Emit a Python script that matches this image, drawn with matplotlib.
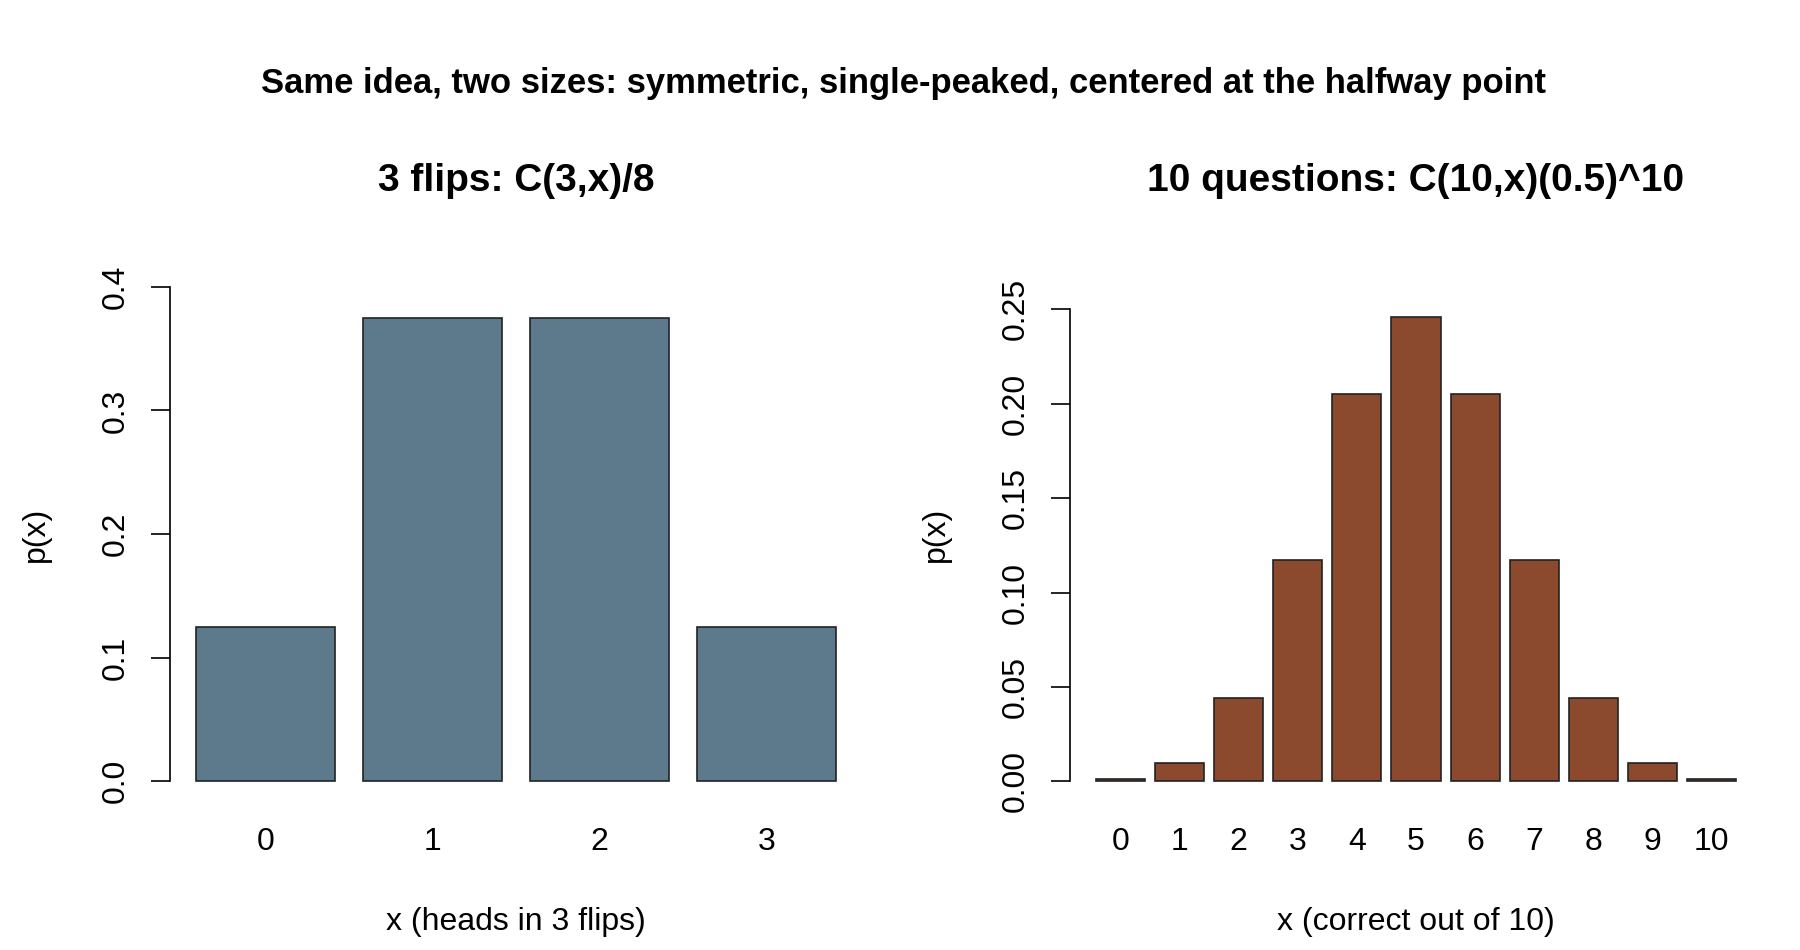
import numpy as np
import matplotlib
matplotlib.use("Agg")
import matplotlib.pyplot as plt

plt.rcParams['font.family'] = ['Liberation Sans', 'DejaVu Sans']

# data
flip_x = [0, 1, 2, 3]
flip_p = [0.125, 0.375, 0.375, 0.125]
quiz_x = [0, 1, 2, 3, 4, 5, 6, 7, 8, 9, 10]
quiz_p = [0.001, 0.0098, 0.0439, 0.1172, 0.2051, 0.2461,
          0.2051, 0.1172, 0.0439, 0.0098, 0.001]

main_title = "Same idea, two sizes: symmetric, single-peaked, centered at the halfway point"
left_title = "3 flips: C(3,x)/8"
right_title = "10 questions: C(10,x)(0.5)^10"

W, H = 1800, 950
fig = plt.figure(figsize=(W / 100, H / 100), dpi=100)
fig.patch.set_facecolor("white")


def barpanel(rect, xs, ps, color, yticks, ylab_fmt, top, xlabel, title):
    ax = fig.add_axes(rect)
    n = len(xs)
    # R barplot layout: width 1, space 0.2
    pos = 0.7 + 1.2 * np.arange(n)
    ax.bar(pos, ps, width=1.0, color=color, edgecolor="#222222", linewidth=1.2)
    lo, hi = 0.2, 0.2 + 1.2 * n - 0.2
    pad = 0.04 * (hi - lo)
    ax.set_xlim(lo - pad, hi + pad)
    ax.set_ylim(-0.04 * top, top * 1.04)
    for s in ["top", "right", "bottom"]:
        ax.spines[s].set_visible(False)
    ax.spines["left"].set_bounds(yticks[0], yticks[-1])
    ax.spines["left"].set_linewidth(1.2)
    ax.set_yticks(yticks)
    ax.set_yticklabels([ylab_fmt % v for v in yticks], rotation=90, va="center")
    ax.tick_params(axis="y", direction="out", length=14, width=1.2, pad=14,
                   labelsize=23)
    ax.set_xticks(pos)
    ax.set_xticklabels([str(v) for v in xs])
    ax.tick_params(axis="x", length=0, pad=19, labelsize=23)
    ax.set_xlabel(xlabel, fontsize=23, labelpad=36)
    ax.set_ylabel("p(x)", fontsize=23, labelpad=36)
    ax.set_facecolor("white")
    cx = rect[0] + rect[2] / 2
    fig.text(cx, 1 - 181 / H, title, ha="center", va="center",
             fontsize=28, fontweight="bold")
    return ax


pw = 692 / W
ph = 534 / H
pb = (H - 801) / H
barpanel([170 / W, pb, pw, ph], flip_x, flip_p, "#5C7A8B",
         [0.0, 0.1, 0.2, 0.3, 0.4], "%.1f", 0.4,
         "x (heads in 3 flips)", left_title)
barpanel([1070 / W, pb, pw, ph], quiz_x, quiz_p, "#8B4A2E",
         [0.0, 0.05, 0.10, 0.15, 0.20, 0.25], "%.2f", 0.262,
         "x (correct out of 10)", right_title)

fig.text(0.502, 1 - 84 / H, main_title, ha="center", va="center",
         fontsize=24.9, fontweight="bold")

fig.savefig("out.png", dpi=100, facecolor="white")
